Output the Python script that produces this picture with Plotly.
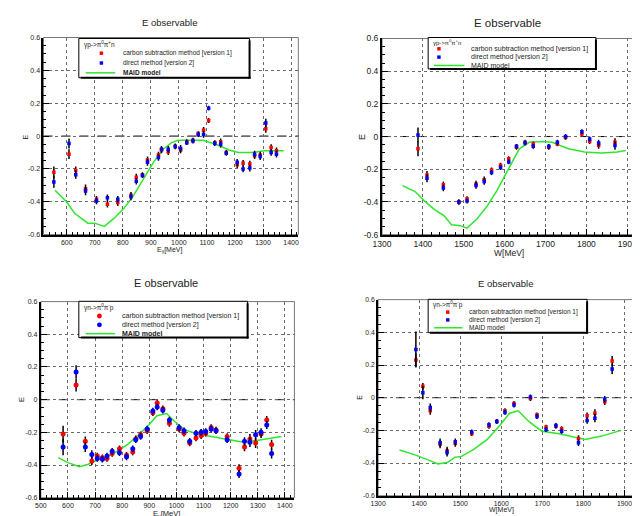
import plotly.graph_objects as go

W, H = 640, 516
OFF = 8  # page body offset of the plot div in the browser

# ---------------- data ----------------
# Panel 1: gamma p -> pi0 pi+ n vs E_gamma
p1_x = [554, 608, 632, 667, 706, 745, 782, 829, 848, 870, 888, 927, 938, 962, 987, 1006,
        1028, 1050, 1069, 1088, 1106, 1128, 1149, 1169, 1208, 1229, 1253, 1270, 1290, 1310, 1329, 1348]
p1_red = [-0.22, -0.11, -0.21, -0.32, -0.385, -0.415, -0.405, -0.36, -0.25, -0.235, -0.145, -0.115,
          -0.085, -0.095, -0.06, -0.085, -0.035, -0.025, 0.015, 0.035, 0.095, -0.04, -0.035, -0.10,
          -0.175, -0.165, -0.17, -0.12, -0.115, 0.045, -0.07, -0.09]
p1_blue = [-0.28, -0.045, -0.235, -0.335, -0.395, -0.375, -0.385, -0.37, -0.275, -0.24, -0.16, -0.13,
           -0.08, -0.08, -0.065, -0.075, -0.04, -0.03, 0.01, 0.01, 0.17, -0.045, -0.05, -0.105,
           -0.16, -0.2, -0.195, -0.11, -0.125, 0.08, -0.1, -0.11]
p1_err = [0.035, 0.03, 0.025, 0.025, 0.02, 0.02, 0.02, 0.02, 0.02, 0.015, 0.02, 0.02, 0.02, 0.02,
          0.015, 0.02, 0.015, 0.015, 0.015, 0.02, 0.015, 0.015, 0.02, 0.015, 0.02, 0.02, 0.02, 0.02,
          0.02, 0.025, 0.02, 0.02]
p1_maid_x = [558, 599, 628, 675, 699, 734, 769, 804, 839, 874, 909, 944, 974, 997, 1038, 1085,
             1132, 1179, 1213, 1260, 1306, 1374]
p1_maid_y = [-0.33, -0.40, -0.47, -0.53, -0.53, -0.55, -0.50, -0.44, -0.36, -0.26, -0.16, -0.08,
             -0.04, -0.025, -0.025, -0.025, -0.05, -0.085, -0.10, -0.10, -0.09, -0.09]

# Panel 2: gamma p -> pi0 pi+ n vs W
p2_x = [1388, 1410, 1450, 1488, 1508, 1530, 1550, 1568, 1590, 1610, 1629, 1650, 1670, 1708,
        1729, 1749, 1789, 1808, 1830, 1870]
p2_red = [-0.075, -0.235, -0.295, -0.40, -0.38, -0.29, -0.265, -0.205, -0.175, -0.135, -0.065,
          -0.035, -0.045, -0.065, -0.045, -0.005, 0.015, -0.03, -0.055, -0.035]
p2_blue = [0.01, -0.255, -0.315, -0.40, -0.395, -0.30, -0.275, -0.22, -0.19, -0.155, -0.06,
           -0.04, -0.06, -0.06, -0.035, 0.0, 0.03, -0.015, -0.04, -0.055]
p2_err = [0.045, 0.025, 0.02, 0.015, 0.015, 0.02, 0.02, 0.015, 0.015, 0.015, 0.015, 0.015, 0.015,
          0.015, 0.015, 0.015, 0.015, 0.015, 0.02, 0.025]
p2_maid_x = [1350, 1380, 1404, 1428, 1452, 1470, 1492, 1508, 1532, 1556, 1580, 1600, 1620, 1636,
             1660, 1692, 1716, 1756, 1796, 1836, 1876, 1896]
p2_maid_y = [-0.30, -0.335, -0.395, -0.445, -0.485, -0.54, -0.545, -0.56, -0.505, -0.43, -0.335,
             -0.24, -0.145, -0.075, -0.035, -0.03, -0.035, -0.075, -0.095, -0.10, -0.095, -0.085]

# Panel 3: gamma n -> pi0 pi- p vs E_gamma
p3_x = [582, 630, 664, 688, 708, 727, 744, 763, 790, 816, 839, 850, 868, 892, 913, 929, 950, 974,
        1010, 1028, 1049, 1072, 1091, 1108, 1128, 1146, 1187, 1231, 1251, 1271, 1292, 1312, 1333, 1351]
p3_red = [-0.21, 0.09, -0.255, -0.375, -0.345, -0.355, -0.36, -0.33, -0.30, -0.34, -0.32, -0.24,
          -0.215, -0.19, -0.08, -0.02, -0.055, -0.145, -0.18, -0.205, -0.265, -0.235, -0.22, -0.205,
          -0.17, -0.185, -0.225, -0.42, -0.29, -0.24, -0.265, -0.21, -0.125, -0.275]
p3_blue = [-0.29, 0.17, -0.29, -0.335, -0.36, -0.365, -0.345, -0.315, -0.325, -0.35, -0.30, -0.245,
           -0.225, -0.18, -0.07, -0.045, -0.065, -0.125, -0.17, -0.19, -0.255, -0.205, -0.20, -0.195,
           -0.18, -0.19, -0.245, -0.455, -0.255, -0.26, -0.215, -0.20, -0.155, -0.33]
p3_err = [0.05, 0.04, 0.03, 0.025, 0.02, 0.02, 0.02, 0.02, 0.02, 0.02, 0.02, 0.02, 0.02, 0.02,
          0.02, 0.02, 0.02, 0.02, 0.02, 0.02, 0.02, 0.02, 0.02, 0.02, 0.02, 0.02, 0.02, 0.025,
          0.025, 0.03, 0.03, 0.025, 0.025, 0.03]
p3_maid_x = [564, 600, 642, 675, 708, 741, 777, 819, 861, 898, 928, 964, 994, 1030, 1078, 1127,
             1175, 1236, 1296, 1345, 1387]
p3_maid_y = [-0.355, -0.385, -0.41, -0.395, -0.37, -0.35, -0.32, -0.275, -0.215, -0.155, -0.098,
             -0.085, -0.135, -0.185, -0.21, -0.225, -0.24, -0.258, -0.25, -0.237, -0.225]

# Panel 4: gamma n -> pi0 pi- p vs W
p4_x = [1392, 1409, 1427, 1451, 1468, 1488, 1528, 1570, 1589, 1609, 1631, 1671, 1687, 1709, 1733,
        1747, 1788, 1809, 1828, 1852, 1870]
p4_red = [0.23, 0.07, -0.08, -0.285, -0.325, -0.28, -0.22, -0.175, -0.145, -0.08, -0.035, -0.005,
          -0.105, -0.18, -0.175, -0.19, -0.25, -0.11, -0.095, -0.025, 0.225]
p4_blue = [0.295, 0.03, -0.06, -0.275, -0.335, -0.27, -0.21, -0.165, -0.145, -0.09, -0.045, 0.005,
           -0.115, -0.195, -0.17, -0.205, -0.275, -0.14, -0.125, -0.01, 0.175]
p4_err_red = [0.04, 0.02, 0.025, 0.025, 0.025, 0.02, 0.015, 0.015, 0.015, 0.015, 0.015, 0.015,
              0.015, 0.015, 0.015, 0.015, 0.02, 0.02, 0.025, 0.02, 0.03]
p4_err_blue = [0.11, 0.04, 0.025, 0.025, 0.025, 0.02, 0.015, 0.015, 0.015, 0.015, 0.015, 0.015,
               0.015, 0.015, 0.015, 0.015, 0.02, 0.02, 0.025, 0.02, 0.03]
p4_maid_x = [1352, 1390, 1426, 1446, 1470, 1486, 1502, 1534, 1566, 1598, 1620, 1641, 1669, 1699,
             1741, 1773, 1804, 1844, 1892]
p4_maid_y = [-0.32, -0.35, -0.385, -0.405, -0.395, -0.365, -0.36, -0.315, -0.255, -0.165, -0.095,
             -0.08, -0.15, -0.205, -0.22, -0.24, -0.255, -0.235, -0.2]

y_ticks = [-0.6, -0.4, -0.2, 0, 0.2, 0.4, 0.6]
y_ticklabels = ["-0.6", "-0.4", "-0.2", "0", "0.2", "0.4", "0.6"]
title_text = "E observable"
label_red = "carbon subtraction method [version 1]"
label_blue = "direct method [version 2]"
label_maid = "MAID model"
reaction_p = "γp->π<sup>0</sup>π<sup>+</sup>n"
reaction_n = "γn->π<sup>0</sup>π<sup>-</sup>p"
xlabel_e = "E<sub>γ</sub>[MeV]"
xlabel_w = "W[MeV]"

GREEN = "#2ee62e"
FONT = "Liberation Sans, Arial, Helvetica, sans-serif"


def fx(p):
    return (p - OFF) / W


def fy(p):
    return 1 - (p - OFF) / H


panels = [
    dict(x=p1_x, red=p1_red, blue=p1_blue, er=p1_err, eb=p1_err, mx=p1_maid_x, my=p1_maid_y,
         xrange=[517, 1426], xticks=list(range(600, 1401, 100)), dom=(35, 294.7, 33, 234),
         fs=7, title=(163, 18, 9.5), xl=(xlabel_e, 163, 250, 7), yl=(17, 134, 7),
         msym="square", msize=3.5, eth=1.5,
         leg=dict(box=(71, 34, 245, 74), reac=reaction_p, tfs=6.5, fs=6.5, t=(74, 40),
                  mk=94, tx=114, rows=(49, 59, 69), line=(78, 108), bold=True)),
    dict(x=p2_x, red=p2_red, blue=p2_blue, er=p2_err, eb=p2_err, mx=p2_maid_x, my=p2_maid_y,
         xrange=[1300, 1917], xticks=list(range(1300, 1901, 100)), dom=(380, 637, 34, 234),
         fs=8.5, title=(508, 18, 11.5), xl=(xlabel_w, 509, 253, 8.5), yl=(359, 134, 9),
         msym="square", msize=3.5, eth=1.5,
         leg=dict(box=(427, 33, 598, 65), reac=reaction_p, tfs=6, fs=7, t=(430, 38),
                  mk=438, tx=469, rows=(44.5, 53, 61.5), line=(433, 464), bold=False)),
    dict(x=p3_x, red=p3_red, blue=p3_blue, er=p3_err, eb=p3_err, mx=p3_maid_x, my=p3_maid_y,
         xrange=[500, 1435], xticks=list(range(500, 1401, 100)), dom=(32.3, 290.7, 302.3, 502.3),
         fs=7, title=(160, 283, 11), xl=(xlabel_e, 160, 519, 7.5), yl=(12, 402, 8),
         msym="circle", msize=5, eth=1.5,
         leg=dict(box=(71, 302, 243, 339), reac=reaction_n, tfs=6.5, fs=7, t=(74, 308),
                  mk=92, tx=113, rows=(317, 326, 335), line=(78, 108), bold=True)),
    dict(x=p4_x, red=p4_red, blue=p4_blue, er=p4_err_red, eb=p4_err_blue, mx=p4_maid_x, my=p4_maid_y,
         xrange=[1300, 1923], xticks=list(range(1300, 1901, 100)), dom=(376, 636.7, 300.3, 500.3),
         fs=6.8, title=(506, 284, 9.5), xl=(xlabel_w, 502, 515, 7), yl=(357, 400, 7),
         msym="square", msize=3.5, eth=1.5,
         leg=dict(box=(427, 300, 589, 334), reac=reaction_n, tfs=6.5, fs=6.5, t=(430, 305),
                  mk=447, tx=467, rows=(313, 321, 329), line=(433, 462), bold=False)),
]

fig = go.Figure()
shapes = []
annotations = []
layout = {}

for i, p in enumerate(panels, start=1):
    sfx = "" if i == 1 else str(i)
    xa, ya = "x" + sfx, "y" + sfx
    x0, x1, y0, y1 = p["dom"]

    fig.add_trace(go.Scatter(x=p["mx"], y=p["my"], mode="lines", xaxis=xa, yaxis=ya,
                             line=dict(color=GREEN, width=1.5), showlegend=False,
                             hoverinfo="skip"))
    fig.add_trace(go.Scatter(x=p["x"], y=p["red"], mode="markers", xaxis=xa, yaxis=ya,
                             marker=dict(color="#ff0000", symbol=p["msym"], size=p["msize"]),
                             error_y=dict(type="data", array=p["er"], color="black",
                                          thickness=p["eth"], width=0),
                             showlegend=False, name=label_red))
    fig.add_trace(go.Scatter(x=p["x"], y=p["blue"], mode="markers", xaxis=xa, yaxis=ya,
                             marker=dict(color="#0000ff", symbol=p["msym"], size=p["msize"]),
                             error_y=dict(type="data", array=p["eb"], color="black",
                                          thickness=p["eth"], width=0),
                             showlegend=False, name=label_blue))

    common = dict(showgrid=True, griddash="dot", gridcolor="#6a6a6a", gridwidth=1,
                  zeroline=False, showline=True, linecolor="black", linewidth=2,
                  ticks="inside", ticklen=6, tickwidth=1, tickcolor="black",
                  tickfont=dict(size=p["fs"], family=FONT, color="#222"))
    layout["xaxis" + sfx] = dict(common, domain=[fx(x0), fx(x1)], range=p["xrange"],
                                 tickvals=p["xticks"], anchor=ya,
                                 minor=dict(ticks="inside", ticklen=3, dtick=20, tick0=0,
                                            tickcolor="black", showgrid=False))
    layout["yaxis" + sfx] = dict(common, domain=[fy(y1), fy(y0)], range=[-0.6, 0.6],
                                 tickvals=y_ticks, ticktext=y_ticklabels, anchor=xa,
                                 minor=dict(ticks="inside", ticklen=3, dtick=0.05, tick0=0,
                                            tickcolor="black", showgrid=False))

    # frame (top/right thin) and dashed zero line
    shapes.append(dict(type="rect", xref=xa + " domain", yref=ya + " domain", x0=0, x1=1, y0=0, y1=1,
                       line=dict(color="#777", width=1), layer="below"))
    shapes.append(dict(type="line", xref=xa + " domain", yref=ya, x0=0, x1=1, y0=0, y1=0,
                       line=dict(color="black", width=1, dash="dash"), layer="below"))

    # title
    tx, ty, tfs = p["title"]
    annotations.append(dict(text=title_text, x=fx(tx), y=fy(ty), xref="paper", yref="paper",
                            showarrow=False, xanchor="center", yanchor="middle",
                            font=dict(size=tfs, family=FONT, color="#222")))
    # axis labels
    lt, lx, ly, lfs = p["xl"]
    annotations.append(dict(text=lt, x=fx(lx), y=fy(ly), xref="paper", yref="paper",
                            showarrow=False, xanchor="center", yanchor="middle",
                            font=dict(size=lfs, family=FONT, color="#222")))
    ex, ey, efs = p["yl"]
    annotations.append(dict(text="E", x=fx(ex), y=fy(ey), xref="paper", yref="paper",
                            showarrow=False, xanchor="center", yanchor="middle", textangle=-90,
                            font=dict(size=efs, family=FONT, color="#222")))

    # legend box
    lg = p["leg"]
    bx0, by0, bx1, by1 = lg["box"]
    shapes.append(dict(type="rect", xref="paper", yref="paper", x0=fx(bx0), x1=fx(bx1),
                       y0=fy(by1), y1=fy(by0), fillcolor="white",
                       line=dict(color="black", width=1), layer="above"))
    shapes.append(dict(type="line", xref="paper", yref="paper", x0=fx(bx1), x1=fx(bx1),
                       y0=fy(by1 + 1), y1=fy(by0 + 2), line=dict(color="black", width=2),
                       layer="above"))
    shapes.append(dict(type="line", xref="paper", yref="paper", x0=fx(bx0 + 2), x1=fx(bx1 + 1),
                       y0=fy(by1), y1=fy(by1), line=dict(color="black", width=2), layer="above"))
    annotations.append(dict(text=lg["reac"], x=fx(lg["t"][0]), y=fy(lg["t"][1]), xref="paper",
                            yref="paper", showarrow=False, xanchor="left", yanchor="middle",
                            font=dict(size=lg["tfs"], family=FONT, color="#222")))
    r1, r2, r3 = lg["rows"]
    ms = p["msize"] / 2
    for row, col in ((r1, "#ff0000"), (r2, "#0000ff")):
        shapes.append(dict(type="circle" if p["msym"] == "circle" else "rect",
                           xref="paper", yref="paper",
                           x0=fx(lg["mk"] - ms), x1=fx(lg["mk"] + ms),
                           y0=fy(row + ms), y1=fy(row - ms), fillcolor=col,
                           line=dict(width=0), layer="above"))
    shapes.append(dict(type="line", xref="paper", yref="paper", x0=fx(lg["line"][0]),
                       x1=fx(lg["line"][1]), y0=fy(r3), y1=fy(r3),
                       line=dict(color=GREEN, width=1.5), layer="above"))
    for row, txt in ((r1, label_red), (r2, label_blue),
                     (r3, "<b>" + label_maid + "</b>" if lg["bold"] else label_maid)):
        annotations.append(dict(text=txt, x=fx(lg["tx"]), y=fy(row), xref="paper", yref="paper",
                                showarrow=False, xanchor="left", yanchor="middle",
                                font=dict(size=lg["fs"], family=FONT, color="#222")))

fig.update_layout(width=W, height=H, margin=dict(l=0, r=0, t=0, b=0),
                  paper_bgcolor="white", plot_bgcolor="white",
                  shapes=shapes, annotations=annotations, showlegend=False,
                  font=dict(family=FONT), **layout)

fig.write_html("out.html")
